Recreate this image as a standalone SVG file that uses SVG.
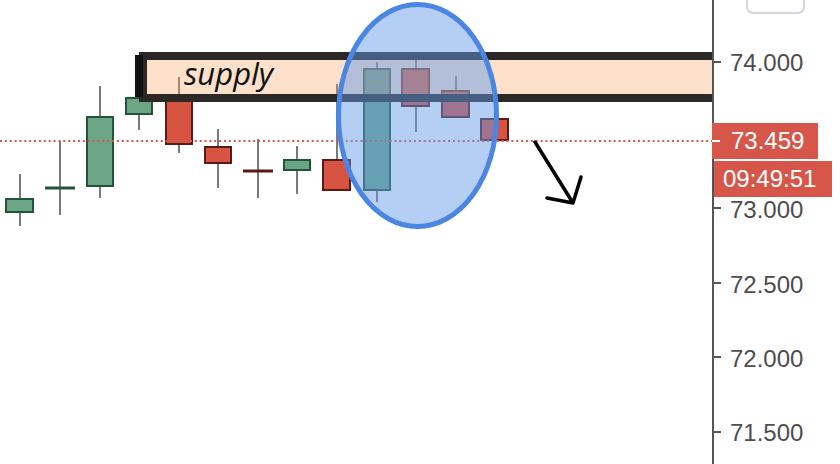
<svg xmlns="http://www.w3.org/2000/svg" width="840" height="464" viewBox="0 0 840 464">
<defs>
<clipPath id="plot"><rect x="0" y="0" width="713" height="464"/></clipPath>
</defs>
<style>
.wick{stroke:#7a7a7a;stroke-width:2}
.up{fill:#6BA583;stroke:#225437;stroke-width:2}
.dn{fill:#D75442;stroke:#5B1A13;stroke-width:2}
.axl{font-family:"Liberation Sans",Arial,sans-serif;font-size:24px;fill:#4D4D4D}
.tick{stroke:#555;stroke-width:2}
.lbl{font-family:"Liberation Sans",Arial,sans-serif;font-size:24px;fill:#fff}
</style>
<rect width="840" height="464" fill="#fff"/>
<g id="candles">
<g id="c1"><line class="wick" x1="20" y1="174" x2="20" y2="226"/><rect class="up" x="6" y="199" width="27" height="13"/></g>
<g id="c2"><line class="wick" x1="60" y1="141" x2="60" y2="215"/><line x1="45" y1="188" x2="75" y2="188" stroke="#225437" stroke-width="3"/></g>
<g id="c3"><line class="wick" x1="100" y1="86" x2="100" y2="198"/><rect class="up" x="87" y="117" width="26" height="69"/></g>
<g id="c4"><line class="wick" x1="139" y1="82" x2="139" y2="130"/><rect class="up" x="126" y="98" width="26" height="16"/></g>
<g id="c5"><line class="wick" x1="179" y1="77" x2="179" y2="153"/><rect class="dn" x="166" y="96" width="26" height="48"/></g>
<g id="c6"><line class="wick" x1="218" y1="129" x2="218" y2="188"/><rect class="dn" x="205" y="147" width="26" height="16"/></g>
<g id="c7"><line class="wick" x1="258" y1="139" x2="258" y2="198"/><line x1="243" y1="171" x2="273" y2="171" stroke="#5B1A13" stroke-width="3"/></g>
<g id="c8"><line class="wick" x1="297" y1="146" x2="297" y2="194"/><rect class="up" x="284" y="160" width="26" height="10"/></g>
<g id="c9"><line class="wick" x1="337" y1="84" x2="337" y2="160"/><rect class="dn" x="323" y="160" width="27" height="30"/></g>
<g id="c10"><line class="wick" x1="377" y1="62" x2="377" y2="202"/><rect class="up" x="364" y="69" width="26" height="121"/></g>
<g id="c11"><line class="wick" x1="416" y1="60" x2="416" y2="132"/><rect class="dn" x="402" y="69" width="27" height="37"/></g>
<g id="c12"><line class="wick" x1="456" y1="76" x2="456" y2="91"/><rect class="dn" x="442" y="91" width="27" height="26"/></g>
<g id="c13"><rect class="dn" x="481" y="119" width="27" height="21"/></g>
</g>
<g id="price-line"><line x1="0" y1="141" x2="712" y2="141" stroke="#D9574A" stroke-width="2" stroke-dasharray="2 2.87"/></g>
<g id="supply">
<g clip-path="url(#plot)">
<rect x="143" y="56" width="590" height="42" fill="#F5A05A" fill-opacity="0.33" stroke="#2B2826" stroke-width="8"/>
</g>
<rect x="135" y="55" width="8" height="42" fill="#111"/>
<text x="184" y="85" font-family="'Open Sans',sans-serif" font-style="italic" font-size="31" fill="#111">supply</text>
</g>
<g id="highlight"><ellipse cx="417.5" cy="115.5" rx="79" ry="111" fill="rgb(100,155,232)" fill-opacity="0.48" stroke="#4B87E2" stroke-width="5"/></g>
<g id="connectors"><path d="M535,142 L573,203 M581,177 L573,203 L547,198" fill="none" stroke="#000" stroke-width="3.5" stroke-linecap="round" stroke-linejoin="round"/></g>
<g id="axis">
<rect x="747" y="-10" width="57" height="23" rx="6" fill="#fff" stroke="#D3D6DC" stroke-width="2"/>
<line x1="713" y1="0" x2="713" y2="464" stroke="#555" stroke-width="2"/>
<line class="tick" x1="713" y1="62" x2="721" y2="62"/>
<line class="tick" x1="713" y1="208" x2="721" y2="208"/>
<line class="tick" x1="713" y1="283" x2="721" y2="283"/>
<line class="tick" x1="713" y1="357" x2="721" y2="357"/>
<line class="tick" x1="713" y1="432" x2="721" y2="432"/>
<text class="axl" x="730" y="71">74.000</text>
<text class="axl" x="730" y="218">73.000</text>
<text class="axl" x="730" y="293">72.500</text>
<text class="axl" x="730" y="367">72.000</text>
<text class="axl" x="730" y="441">71.500</text>
</g>
<g id="price-label">
<rect x="712" y="123" width="106" height="36" fill="#D6574A"/>
<line x1="712" y1="141" x2="720" y2="141" stroke="#fff" stroke-width="2"/>
<text class="lbl" x="731" y="149">73.459</text>
</g>
<g id="time-label">
<rect x="714" y="161" width="118" height="36" fill="#D6574A"/>
<text class="lbl" x="723" y="187">09:49:51</text>
</g>
</svg>
